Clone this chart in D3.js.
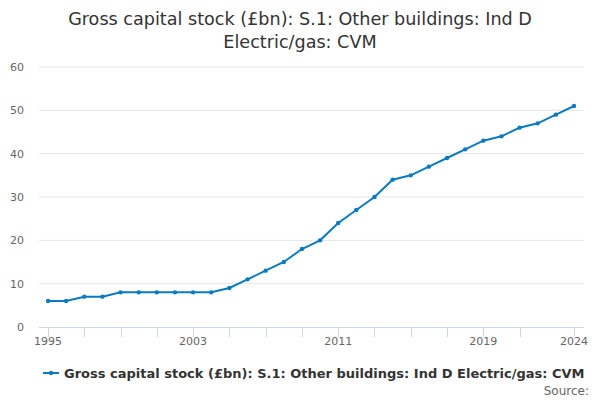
<!DOCTYPE html>
<html><head><meta charset="utf-8">
<script src="https://cdn.jsdelivr.net/npm/d3@7"></script>
<style>body{margin:0;background:#fff;font-family:"DejaVu Sans",sans-serif;}</style>
</head><body>
<svg id="c" width="600" height="400"></svg>
<script>
const years = d3.range(1995, 2025);
const values = [6,6,7,7,8,8,8,8,8,8,9,11,13,15,18,20,24,27,30,34,35,37,39,41,43,44,46,47,49,51];
const yTicks = [0,10,20,30,40,50,60];
const xTickMarks = [1995,1997,1999,2001,2003,2005,2007,2009,2011,2013,2015,2017,2019,2021,2024];
const xLabels = [1995,2003,2011,2019,2024];
const seriesName = "Gross capital stock (£bn): S.1: Other buildings: Ind D Electric/gas: CVM";
const titleLines = ["Gross capital stock (£bn): S.1: Other buildings: Ind D","Electric/gas: CVM"];
const color = "#0a7bc1";

const svg = d3.select("#c");
const x = d3.scaleLinear().domain([1995,2024]).range([48,574]);
const y = d3.scaleLinear().domain([0,60]).range([327,67]);

svg.append("g").selectAll("text").data(titleLines).join("text")
  .attr("x",300).attr("y",(d,i)=>24.5+i*23).attr("text-anchor","middle")
  .attr("fill","#333").style("font-size","17.6px").text(d=>d);

// grid
svg.append("g").selectAll("line").data(yTicks.filter(d=>d>0)).join("line")
  .attr("x1",39).attr("x2",584).attr("y1",d=>y(d)).attr("y2",d=>y(d))
  .attr("stroke","#e6e6e6").attr("stroke-width",1);
svg.append("g").selectAll("text").data(yTicks).join("text")
  .attr("x",24).attr("y",d=>y(d)+4).attr("text-anchor","end")
  .attr("fill","#666").style("font-size","11px").text(d=>d);

// x axis
svg.append("line").attr("x1",39).attr("x2",584).attr("y1",327.5).attr("y2",327.5)
  .attr("stroke","#ccd6eb").attr("stroke-width",1);
svg.append("g").selectAll("line").data(xTickMarks).join("line")
  .attr("x1",d=>Math.round(x(d))+0.5).attr("x2",d=>Math.round(x(d))+0.5)
  .attr("y1",327).attr("y2",337).attr("stroke","#ccd6eb").attr("stroke-width",1);
svg.append("g").selectAll("text").data(xLabels).join("text")
  .attr("x",d=>x(d)).attr("y",345).attr("text-anchor","middle")
  .attr("fill","#666").style("font-size","11px").text(d=>d);

const pts = years.map((yr,i)=>[yr,values[i]]);
svg.append("path").datum(pts)
  .attr("d",d3.line().x(d=>x(d[0])).y(d=>y(d[1])))
  .attr("fill","none").attr("stroke",color).attr("stroke-width",2);
svg.append("g").selectAll("circle").data(pts).join("circle")
  .attr("cx",d=>x(d[0])).attr("cy",d=>y(d[1])).attr("r",2.2).attr("fill",color);

// legend
const lg = svg.append("g");
lg.append("line").attr("x1",43).attr("x2",59).attr("y1",373).attr("y2",373)
  .attr("stroke",color).attr("stroke-width",2);
lg.append("circle").attr("cx",51).attr("cy",373).attr("r",2.2).attr("fill",color);
lg.append("text").attr("x",64).attr("y",377.5).attr("fill","#333")
  .style("font-size","13px").style("font-weight","bold").text(seriesName);

svg.append("text").attr("x",589).attr("y",395).attr("text-anchor","end")
  .attr("fill","#666").style("font-size","12px").text("Source:");
</script>
</body></html>
